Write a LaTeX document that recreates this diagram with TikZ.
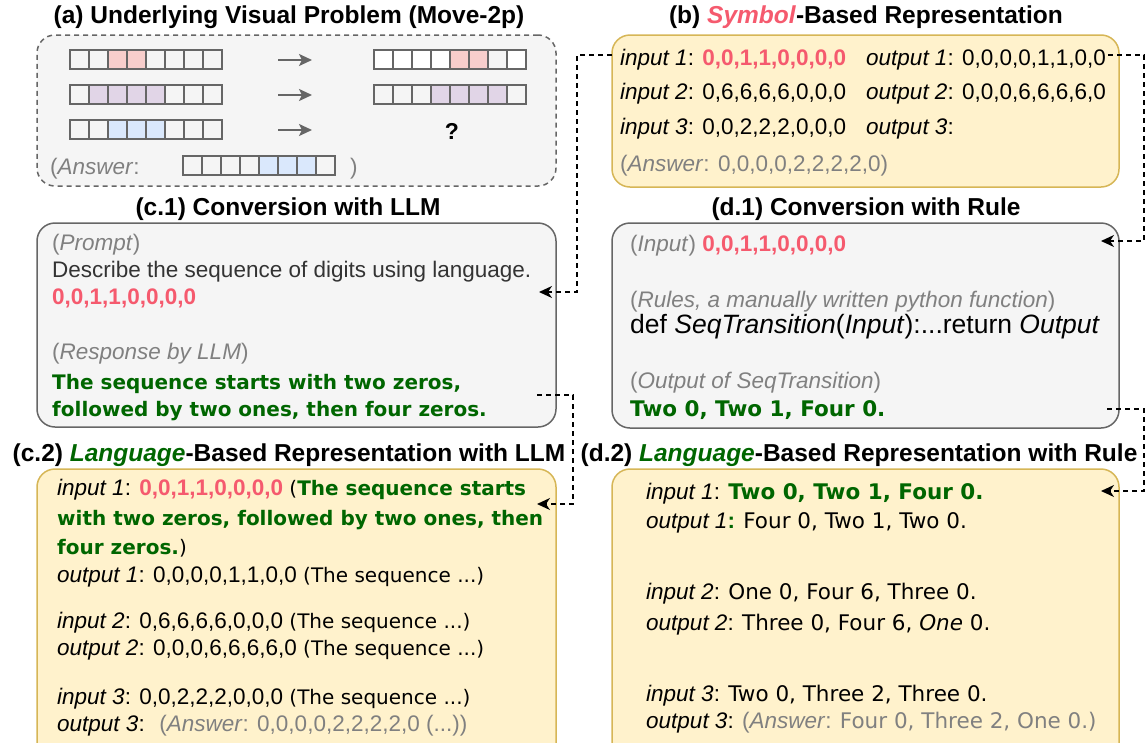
\documentclass[tikz,border=0pt]{standalone}
\usepackage{fontspec}
\setmainfont{Liberation Sans}
\newfontfamily\comicfont{DejaVu Sans}
\usepackage{tikz}
\usetikzlibrary{arrows.meta}

\definecolor{panelfill}{HTML}{F5F5F5}
\definecolor{panelline}{HTML}{666666}
\definecolor{reprfill}{HTML}{FFF2CC}
\definecolor{reprline}{HTML}{D6B656}
\definecolor{cellred}{HTML}{F8CECC}
\definecolor{cellpurple}{HTML}{E1D5E7}
\definecolor{cellblue}{HTML}{DAE8FC}
\definecolor{symred}{HTML}{F55A6E}
\definecolor{lgreen}{HTML}{006600}
\definecolor{txtgray}{HTML}{808080}
\definecolor{prompttxt}{HTML}{333333}

\newcommand{\seq}[1]{{\comicfont\fontsize{20}{24}\selectfont #1}}
\newcommand{\seqg}[1]{{\comicfont\bfseries\fontsize{20}{24}\selectfont\color{lgreen}#1}}
\newcommand{\seqd}[1]{{\comicfont\fontsize{21.5}{25}\selectfont #1}}
\newcommand{\seqdg}[1]{{\comicfont\bfseries\fontsize{21.5}{25}\selectfont\color{lgreen}#1}}
\newcommand{\digr}[1]{{\bfseries\color{symred}#1}}
\newcommand{\gry}[1]{{\color{txtgray}#1}}

\begin{document}
\begin{tikzpicture}[x=1pt,y=-1pt,
  panel/.style={draw=panelline,fill=panelfill,line width=1.5pt,rounded corners=18pt,inner sep=0pt},
  repr/.style={draw=reprline,fill=reprfill,line width=1.5pt,rounded corners=18pt,inner sep=0pt},
  title/.style={font=\bfseries\fontsize{24.5}{28}\selectfont,inner sep=0pt},
  txt/.style={anchor=base west,inner sep=0pt,font=\fontsize{22.5}{26}\selectfont},
  cell/.style={draw=panelline,line width=2pt},
  move/.style={draw=panelline,line width=2pt,-{Stealth[length=13pt,width=12pt,inset=3pt]}},
  link/.style={draw=black,line width=1.4pt,dash pattern=on 5pt off 4pt,-{Stealth[length=13pt,width=12pt,inset=4pt]}}]
\useasboundingbox (0,0) rectangle (1145,742);
\clip (0,0) rectangle (1145,742);

\node[panel,dash pattern=on 5pt off 4pt,minimum width=519pt,minimum height=151pt] (pa) at (296.5,110.5) {};
\node[repr,minimum width=507pt,minimum height=152pt] (pb) at (865.5,111) {};
\node[panel,minimum width=519pt,minimum height=204pt] (pc1) at (296.5,325) {};
\node[panel,minimum width=507pt,minimum height=205pt] (pd1) at (865.5,325.5) {};
\node[repr,minimum width=519pt,minimum height=296pt] (pc2) at (296.5,617) {};
\node[repr,minimum width=507pt,minimum height=296pt] (pd2) at (865.5,617) {};

\node[title] (ta) at (289,17) {(a) Underlying Visual Problem (Move-2p)};
\node[title] (tb) at (866,17) {(b) \textcolor{symred}{\textit{Symbol}}-Based Representation};
\node[title] (tc1) at (288,209) {(c.1) Conversion with LLM};
\node[title] (td1) at (866,209) {(d.1) Conversion with Rule};
\node[title] (tc2) at (289,455) {(c.2) \textcolor{lgreen}{\textit{Language}}-Based Representation with LLM};
\node[title] (td2) at (859,455) {(d.2) \textcolor{lgreen}{\textit{Language}}-Based Representation with Rule};

\fill[white] (374,50) rectangle ++(76,19);
\fill[white] (507,50) rectangle ++(19,19);
\foreach \gx/\gy/\ga/\gb/\gcol in {70/50/3/4/cellred, 70/85/2/5/cellpurple, 70/120/3/5/cellblue,
    374/50/5/6/cellred, 374/85/4/7/cellpurple, 183/156/5/7/cellblue}{
  \foreach \k in {1,...,8}{
    \ifnum\k<\ga \def\kc{none}\else\ifnum\k>\gb \def\kc{none}\else\def\kc{\gcol}\fi\fi
    \draw[cell,fill=\kc] ({\gx+(\k-1)*19},\gy) rectangle ++(19,19);
  }
}
\foreach \ry in {60,95,130}
  \draw[move] (278,\ry) -- (312,\ry);
\node[font=\bfseries\fontsize{23}{26}\selectfont,inner sep=0pt] (qmark) at (452,131) {?};
\node[txt] (aans) at (50,174) {\gry{(\textit{Answer}:}};
\node[txt] (aclose) at (350,174) {\gry{)}};

\node[txt] (bin1) at (620,65) {\textit{input 1}: \digr{0,0,1,1,0,0,0,0}};
\node[txt] (bout1) at (866,65) {\textit{output 1}: 0,0,0,0,1,1,0,0};
\node[txt] (bin2) at (620,99) {\textit{input 2}: 0,6,6,6,6,0,0,0};
\node[txt] (bout2) at (866,99) {\textit{output 2}: 0,0,0,6,6,6,6,0};
\node[txt] (bin3) at (620,134) {\textit{input 3}: 0,0,2,2,2,0,0,0};
\node[txt] (bout3) at (866,134) {\textit{output 3}:};
\node[txt] (bans) at (620,171) {\gry{(\textit{Answer}: 0,0,0,0,2,2,2,2,0)}};

\node[txt] (cprompt) at (52,250) {\gry{(\textit{Prompt})}};
\node[txt,text=prompttxt] (cdesc) at (52,277) {Describe the sequence of digits using language.};
\node[txt] (cseq) at (52,304) {\digr{0,0,1,1,0,0,0,0}};
\node[txt] (cresp) at (52,359) {\gry{(\textit{Response by LLM})}};
\node[txt] (cans1) at (52,389) {\seqg{The sequence starts with two zeros,}};
\node[txt] (cans2) at (52,416) {\seqg{followed by two ones, then four zeros.}};

\node[txt] (dinput) at (630,251) {\gry{(\textit{Input})} \digr{0,0,1,1,0,0,0,0}};
\node[txt] (drules) at (630,307) {\gry{(\textit{Rules, a manually written python function})}};
\node[txt,font=\fontsize{26.5}{30}\selectfont] (ddef) at (630,333) {def \textit{SeqTransition}(\textit{Input}):...return \textit{Output}};
\node[txt] (doutof) at (630,388) {\gry{(\textit{Output of SeqTransition})}};
\node[txt] (dtwo) at (630,416) {\seqdg{Two 0, Two 1, Four 0.}};

\node[txt] (c2in1) at (57,495) {\textit{input 1}: \digr{0,0,1,1,0,0,0,0} \seq{(}\seqg{The sequence starts}};
\node[txt] (c2in1b) at (57,525) {\seqg{with two zeros, followed by two ones, then}};
\node[txt] (c2in1c) at (57,554) {\seqg{four zeros.}\seq{)}};
\node[txt] (c2out1) at (57,582) {\textit{output 1}: 0,0,0,0,1,1,0,0 \seq{(The sequence ...)}};
\node[txt] (c2in2) at (57,628) {\textit{input 2}: 0,6,6,6,6,0,0,0 \seq{(The sequence ...)}};
\node[txt] (c2out2) at (57,655) {\textit{output 2}: 0,0,0,6,6,6,6,0 \seq{(The sequence ...)}};
\node[txt] (c2in3) at (57,704) {\textit{input 3}: 0,0,2,2,2,0,0,0 \seq{(The sequence ...)}};
\node[txt] (c2out3) at (57,731) {\textit{output 3}: \ \gry{(\textit{Answer}: 0,0,0,0,2,2,2,2,0 (...))}};

\node[txt] (d2in1) at (646,499) {\textit{input 1}: \seqdg{Two 0, Two 1, Four 0.}};
\node[txt] (d2out1) at (646,528) {\textit{output 1}{\bfseries\color{lgreen}:} \seqd{Four 0, Two 1, Two 0.}};
\node[txt] (d2in2) at (646,599) {\textit{input 2}: \seqd{One 0, Four 6, Three 0.}};
\node[txt] (d2out2) at (646,630) {\textit{output 2}: \seqd{Three 0, Four 6, \textit{One} 0.}};
\node[txt] (d2in3) at (646,701) {\textit{input 3}: \seqd{Two 0, Three 2, Three 0.}};
\node[txt] (d2out3) at (646,728) {\textit{output 3}: \gry{(\textit{Answer}: \seqd{Four 0, Three 2, One 0.)}}};

\coordinate (symOutL) at (612,55);
\coordinate (llmIn) at (539,292);
\coordinate (symOutR) at (1108,55);
\coordinate (ruleIn) at (1101,241);
\coordinate (llmOut) at (537,395);
\coordinate (llmRepIn) at (537,504);
\coordinate (ruleOut) at (1107,409);
\coordinate (ruleRepIn) at (1101,491);

\draw[link] (symOutL) -- ++(-35,0) |- (llmIn);
\draw[link] (symOutR) -- ++(36,0) |- (ruleIn);
\draw[link] (llmOut) -- ++(36,0) |- (llmRepIn);
\draw[link] (ruleOut) -- ++(37,0) |- (ruleRepIn);
\end{tikzpicture}
\end{document}
